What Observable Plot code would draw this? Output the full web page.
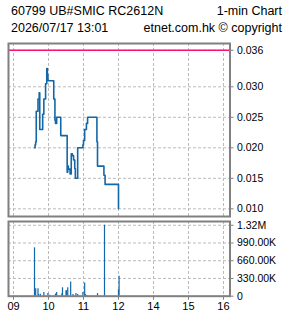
<!DOCTYPE html>
<html><head><meta charset="utf-8">
<script src="https://cdn.jsdelivr.net/npm/d3@7"></script>
<script src="https://cdn.jsdelivr.net/npm/@observablehq/plot@0.6"></script>
<style>
body{margin:0;background:#fff;font-family:"Liberation Sans",Arial,sans-serif;}
#wrap{width:285px;height:318px;position:relative;overflow:hidden;background:#fff}
.hdr{position:absolute;left:11px;right:3px;font-size:12.5px;display:flex;justify-content:space-between;line-height:14px;color:#000;white-space:nowrap}
#topChart,#botChart{position:absolute;left:0}
svg{display:block}
</style></head><body><div id="wrap">
<div class="hdr" style="top:4px"><span>60799 UB#SMIC RC2612N</span><span>1-min Chart</span></div>
<div class="hdr" style="top:21px"><span>2026/07/17 13:01</span><span>etnet.com.hk © copyright</span></div>
<div id="topChart" style="top:38px"></div>
<div id="botChart" style="top:218px"></div>
</div>
<script>
// ---- data ----
const priceTimes = ["09:36","09:37","09:38","09:39","09:42","09:44","09:45","09:50","09:52","09:55","09:57","09:58","09:59","10:09","10:11","10:12","10:14","10:21","10:32","10:33","10:34","10:37","10:39","10:41","10:43","10:45","10:46","10:50","10:59","11:00","11:02","11:05","11:07","11:23","11:24","11:35","11:37","13:00"];
const prices = [0.020,0.0205,0.021,0.026,0.028,0.029,0.023,0.0255,0.028,0.0305,0.033,0.032,0.031,0.028,0.0245,0.024,0.025,0.022,0.016,0.017,0.0165,0.0157,0.019,0.0187,0.018,0.0166,0.015,0.020,0.0205,0.0212,0.023,0.024,0.025,0.021,0.017,0.0155,0.014,0.010];
const refPrice = 0.036;

const volTimes = ["09:36","09:38","09:42","09:43","09:46","09:52","09:59","10:02","10:12","10:14","10:23","10:24","10:30","10:31","10:33","10:38","10:42","10:47","10:50","10:59","11:02","11:03","11:05","11:07","11:24","11:36","13:00","13:01"];
const volumes = [900000,140000,140000,30000,36000,67000,49000,20000,40000,67000,45000,157000,100000,100000,157000,265000,30000,49000,30000,70000,247000,30000,15000,8000,49000,1320000,120000,373000];

const hourTicks = [0,1,2,3,4,5,6];
const hourLabels = ["09","10","11","12","14","15","16"];
const priceTicks = [0.010,0.015,0.020,0.025,0.030,0.036];
const priceLabels = ["0.010","0.015","0.020","0.025","0.030","0.036"];
const volTicks = [0,330000,660000,990000,1320000];
const volLabels = ["0","330.00K","660.00K","990.00K","1.32M"];

// trading-session hours (lunch break collapsed: 12:00 and 13:00 share a position)
function sessionHour(s){const [h,m]=s.split(":").map(Number);const v=h+m/60;return v>=13? v-10 : v-9;}

const priceData = priceTimes.map((t,i)=>({t:sessionHour(t), p:prices[i]}));
const volData = volTimes.map((t,i)=>({t:sessionHour(t), v:volumes[i]}));

const BLUE = "#1467a6", GRID="#bcbcbc", FRAME="#808080";
const xScale = {domain:[-0.143, 6.186]};
const common = {width:285, marginLeft:8, marginRight:55.5, style:{fontFamily:"'Liberation Sans', Arial, sans-serif", fontSize:"10.5px", background:"#fff", color:"#000"}};

const topPlot = Plot.plot({
  ...common, height:180, marginTop:5, marginBottom:2,
  x:{...xScale, axis:null},
  y:{domain:[0.00874,0.0371], axis:null},
  marks:[
    Plot.gridX(hourTicks,{stroke:GRID, strokeOpacity:1, strokeDasharray:"3,2"}),
    Plot.gridY(priceTicks,{stroke:GRID, strokeOpacity:1, strokeDasharray:"3,2"}),
    Plot.ruleY([refPrice],{stroke:"#fa0f72", strokeWidth:1.5}),
    Plot.line(priceData,{x:"t", y:"p", curve:"step-after", stroke:BLUE, strokeWidth:1.6}),
    Plot.frame({stroke:FRAME, strokeWidth:2}),
    Plot.axisY(priceTicks,{anchor:"right", tickSize:3, tickPadding:4, stroke:FRAME, fill:"#000", tickFormat:(d,i)=>priceLabels[i], label:null})
  ]
});
document.getElementById("topChart").appendChild(topPlot);

const botPlot = Plot.plot({
  ...common, height:100, marginTop:3, marginBottom:22.3,
  x:{...xScale, axis:null},
  y:{domain:[0,1390000], axis:null},
  marks:[
    Plot.gridX(hourTicks,{stroke:GRID, strokeOpacity:1, strokeDasharray:"3,2"}),
    Plot.gridY(volTicks,{stroke:GRID, strokeOpacity:1, strokeDasharray:"3,2"}),
    Plot.ruleX(volData,{x:"t", y1:0, y2:"v", stroke:BLUE, strokeWidth:1.2}),
    Plot.frame({stroke:FRAME, strokeWidth:2}),
    Plot.axisY(volTicks,{anchor:"right", tickSize:3, tickPadding:4, stroke:FRAME, fill:"#000", tickFormat:(d,i)=>volLabels[i], label:null}),
    Plot.axisX(hourTicks,{anchor:"bottom", tickSize:4, tickPadding:2, stroke:FRAME, fill:"#000", fontSize:11, tickFormat:(d,i)=>hourLabels[i], label:null})
  ]
});
document.getElementById("botChart").appendChild(botPlot);
</script>
</body></html>
